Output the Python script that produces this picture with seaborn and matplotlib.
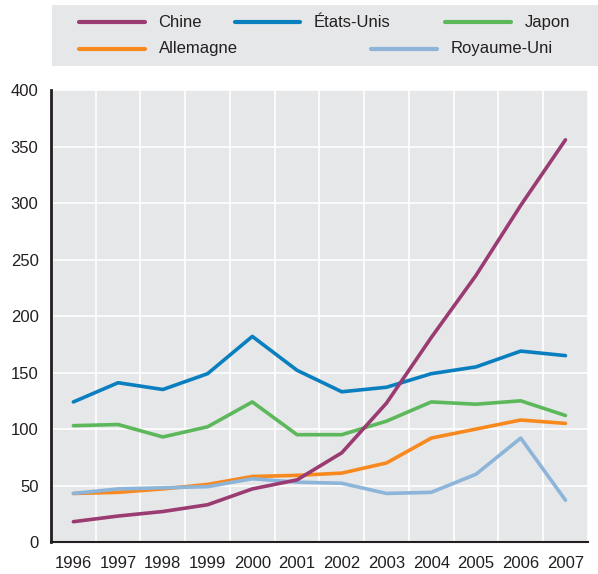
import pandas as pd
import seaborn as sns
import matplotlib.pyplot as plt
from matplotlib.lines import Line2D
from matplotlib.ticker import MultipleLocator

# ---- data ----
years = [1996, 1997, 1998, 1999, 2000, 2001, 2002, 2003, 2004, 2005, 2006, 2007]
chine = [18, 23, 27, 33, 47, 55, 79, 123, 181, 236, 298, 356]
etats_unis = [124, 141, 135, 149, 182, 152, 133, 137, 149, 155, 169, 165]
japon = [103, 104, 93, 102, 124, 95, 95, 107, 124, 122, 125, 112]
allemagne = [43, 44, 47, 51, 58, 59, 61, 70, 92, 100, 108, 105]
royaume_uni = [43, 47, 48, 49, 56, 53, 52, 43, 44, 60, 92, 37]

series = {
    'Allemagne': allemagne,
    'Royaume-Uni': royaume_uni,
    'Japon': japon,
    'États-Unis': etats_unis,
    'Chine': chine,
}
colors = {
    'Chine': '#9a3b72',
    'États-Unis': '#0a7fc0',
    'Japon': '#5db85c',
    'Allemagne': '#f7891f',
    'Royaume-Uni': '#8db5da',
}

df = pd.DataFrame([
    {'Année': y, 'Valeur': v, 'Pays': name}
    for name, vals in series.items()
    for y, v in zip(years, vals)
])

# ---- style ----
sns.set_style('white')
plt.rcParams['font.family'] = ['Liberation Sans', 'DejaVu Sans']
plt.rcParams['text.color'] = '#231f20'

fig = plt.figure(figsize=(5.98, 5.74), dpi=100)
ax = fig.add_axes([0.0853, 0.0557, 0.8977, 0.7873])
ax.set_facecolor('#e6e7e8')

sns.lineplot(data=df, x='Année', y='Valeur', hue='Pays',
             hue_order=list(series.keys()), palette=colors,
             linewidth=2.6, legend=False, ax=ax, zorder=3)

ax.set_xlim(years[0] - 0.5, years[-1] + 0.5)
ax.set_ylim(0, 400)
ax.set_xticks(years)
ax.set_xticklabels([str(y) for y in years])
ax.xaxis.set_minor_locator(MultipleLocator(1, offset=0.5))
ax.yaxis.set_major_locator(MultipleLocator(50))

ax.grid(False)
ax.grid(True, axis='x', which='minor', color='white', linewidth=1.2, zorder=0)
ax.grid(True, axis='y', which='major', color='white', linewidth=1.2, zorder=0)
ax.set_axisbelow(True)

ax.tick_params(axis='x', which='major', length=0, pad=10, labelsize=12, labelcolor='#231f20')
ax.tick_params(axis='x', which='minor', direction='in', length=5, width=1, color='#231f20')
ax.tick_params(axis='y', which='major', direction='out', length=5, width=1,
               color='#231f20', labelsize=12, labelcolor='#231f20', pad=4)

for side in ['top', 'right']:
    ax.spines[side].set_visible(False)
ax.spines['left'].set_linewidth(2)
ax.spines['left'].set_color('#231f20')
ax.spines['bottom'].set_linewidth(1.5)
ax.spines['bottom'].set_color('#231f20')
ax.set_xlabel('')
ax.set_ylabel('')

# ---- legend panel ----
lax = fig.add_axes([0.087, 0.885, 0.913, 0.106])
lax.set_facecolor('#e6e7e8')
lax.set_xlim(0, 1)
lax.set_ylim(0, 1)
lax.set_xticks([])
lax.set_yticks([])
for s in lax.spines.values():
    s.set_visible(False)

entries = [
    ('Chine', 0.05, 0.72),
    ('États-Unis', 0.335, 0.72),
    ('Japon', 0.72, 0.72),
    ('Allemagne', 0.05, 0.28),
    ('Royaume-Uni', 0.585, 0.28),
]
for name, x0, y0 in entries:
    lax.add_line(Line2D([x0, x0 + 0.12], [y0, y0], color=colors[name],
                        linewidth=3, solid_capstyle='round'))
    lax.text(x0 + 0.145, y0, name, va='center', ha='left', fontsize=12)

fig.savefig('out.png', dpi=100)
